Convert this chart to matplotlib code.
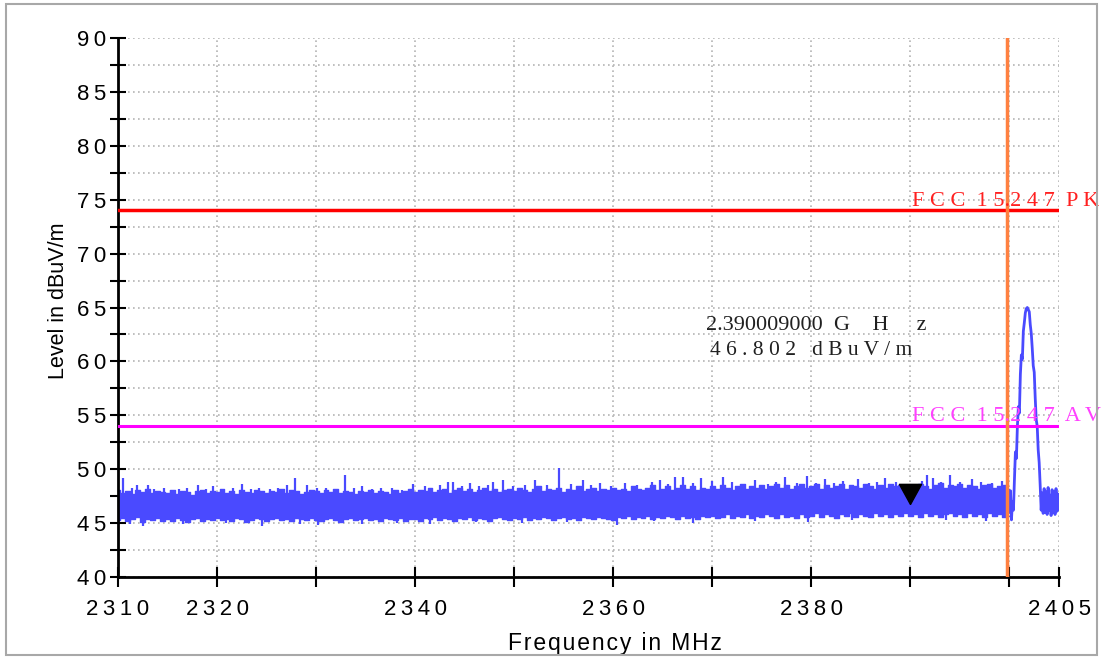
import numpy as np
import matplotlib
matplotlib.use("Agg")
import matplotlib.pyplot as plt
from matplotlib.ticker import MultipleLocator
from matplotlib.patches import Rectangle

plt.rcParams['font.family'] = ['Liberation Sans', 'DejaVu Sans']

# ---- data ----
# noise floor envelope (0.5 MHz bins, 2310 ... 2400 MHz)
band_freq = np.arange(2310.0, 2400.01, 0.5)
band_hi = [
    48.1, 47.8, 48.0, 47.7, 48.1, 47.9, 48.2, 47.8, 48.0, 47.9,
    47.8, 48.1, 47.7, 48.0, 47.9, 47.6, 48.0, 48.1, 47.8, 48.0,
    47.9, 48.2, 47.8, 48.0, 47.7, 48.1, 47.9, 47.8, 48.1, 48.0,
    47.8, 48.0, 47.9, 48.2, 47.8, 48.1, 48.0, 47.7, 47.9, 48.1,
    48.0, 47.8, 48.1, 47.9, 48.2, 47.8, 48.0, 47.9, 47.7, 48.0,
    47.9, 48.1, 47.8, 48.0, 47.9, 47.7, 48.1, 47.8, 48.0, 48.2,
    47.9, 48.1, 48.0, 48.3, 47.9, 48.1, 48.2, 47.8, 48.1, 48.3,
    48.0, 48.2, 47.9, 48.1, 48.3, 48.0, 48.2, 47.9, 48.1, 48.2,
    48.0, 48.3, 48.1, 47.9, 48.2, 48.4, 48.0, 48.2, 48.1, 48.3,
    47.9, 48.2, 48.1, 48.4, 48.0, 48.2, 48.3, 48.0, 48.2, 48.1,
    48.3, 48.1, 48.2, 48.0, 48.4, 48.2, 48.1, 48.3, 48.5, 48.1,
    48.2, 48.4, 48.1, 48.3, 48.5, 48.2, 48.4, 48.1, 48.3, 48.2,
    48.4, 48.2, 48.5, 48.3, 48.1, 48.4, 48.6, 48.2, 48.4, 48.3,
    48.5, 48.2, 48.4, 48.6, 48.3, 48.5, 48.2, 48.4, 48.6, 48.3,
    48.4, 48.6, 48.2, 48.5, 48.3, 48.4, 48.6, 48.2, 48.5, 48.4,
    48.3, 48.6, 48.4, 48.2, 48.5, 48.3, 48.6, 48.4, 48.5, 48.2,
    48.5, 48.3, 48.6, 48.4, 48.2, 48.5, 48.7, 48.3, 48.5, 48.4,
    48.6, 48.3, 48.5, 48.4, 48.2, 48.5, 48.6, 48.3, 48.4, 48.5,
    48.2,
]
band_lo = [
    45.3, 45.5, 45.2, 45.4, 45.6, 45.1, 45.4, 45.3, 45.5, 45.2,
    45.4, 45.2, 45.5, 45.3, 45.1, 45.4, 45.5, 45.2, 45.4, 45.3,
    45.5, 45.3, 45.4, 45.2, 45.5, 45.4, 45.1, 45.3, 45.5, 45.4,
    45.2, 45.4, 45.5, 45.3, 45.4, 45.2, 45.5, 45.4, 45.3, 45.5,
    45.3, 45.2, 45.4, 45.5, 45.3, 45.1, 45.4, 45.5, 45.3, 45.4,
    45.5, 45.3, 45.4, 45.2, 45.5, 45.4, 45.3, 45.5, 45.2, 45.4,
    45.4, 45.2, 45.5, 45.4, 45.6, 45.3, 45.5, 45.4, 45.2, 45.5,
    45.4, 45.6, 45.3, 45.5, 45.4, 45.2, 45.5, 45.6, 45.4, 45.3,
    45.5, 45.4, 45.6, 45.3, 45.5, 45.4, 45.6, 45.5, 45.3, 45.5,
    45.6, 45.4, 45.5, 45.3, 45.6, 45.5, 45.4, 45.6, 45.5, 45.4,
    45.3, 45.6, 45.5, 45.7, 45.4, 45.6, 45.5, 45.7, 45.4, 45.6,
    45.5, 45.7, 45.6, 45.4, 45.7, 45.5, 45.6, 45.4, 45.7, 45.6,
    45.7, 45.5, 45.6, 45.8, 45.5, 45.7, 45.6, 45.8, 45.5, 45.7,
    45.6, 45.8, 45.7, 45.5, 45.8, 45.6, 45.7, 45.5, 45.8, 45.6,
    45.7, 45.9, 45.6, 45.8, 45.7, 45.5, 45.8, 45.7, 45.9, 45.6,
    45.8, 45.7, 45.6, 45.9, 45.7, 45.8, 45.6, 45.8, 45.7, 45.9,
    45.7, 45.8, 45.6, 45.9, 45.7, 45.8, 45.6, 45.8, 45.9, 45.7,
    45.8, 45.6, 45.9, 45.7, 45.8, 45.6, 45.9, 45.7, 45.8, 45.6,
    45.7,
]

# single peak-hold spikes above the band
spike_freq = [2310.5, 2311.4, 2311.9, 2313.0, 2313.6, 2314.6, 2315.4, 2316.2,
              2317.0, 2318.1, 2318.9, 2319.6, 2320.5, 2321.6, 2322.5, 2323.4,
              2324.2, 2325.3, 2326.2, 2327.1, 2327.9, 2329.1, 2330.1, 2331.0,
              2332.0, 2332.9, 2333.8, 2334.6, 2335.6, 2336.6, 2337.7, 2338.7,
              2339.8, 2341.0, 2342.5, 2343.3, 2343.8, 2344.7, 2345.5, 2346.4,
              2347.4, 2347.9, 2348.9, 2349.9, 2351.1, 2352.1, 2353.3, 2354.5,
              2355.7, 2356.9, 2357.8, 2358.7, 2359.8, 2361.2, 2362.4, 2363.9,
              2364.7, 2365.5, 2366.2, 2367.0, 2368.1, 2368.9, 2370.0, 2371.1,
              2372.0, 2373.2, 2374.3, 2375.6, 2376.4, 2377.3, 2378.5, 2379.6,
              2380.5, 2381.4, 2382.3, 2383.2, 2384.7, 2385.8, 2386.6, 2387.4,
              2388.5, 2391.2, 2391.7, 2392.3, 2393.1, 2394.0, 2395.0, 2396.2,
              2397.1, 2398.2, 2399.2]
spike_level = [49.2, 48.3, 48.5, 48.5, 48.2, 48.3, 48.1, 48.2,
               48.3, 48.5, 48.2, 48.4, 48.2, 48.3, 48.6, 48.2,
               48.3, 48.2, 48.3, 48.5, 49.2, 48.5, 48.3, 48.3,
               48.2, 49.5, 48.3, 48.4, 48.2, 48.3, 48.3, 48.1,
               48.6, 48.4, 48.5, 48.8, 48.8, 48.4, 48.7, 48.4,
               48.5, 48.8, 49.0, 48.4, 48.5, 49.0, 48.5, 50.1,
               48.6, 49.0, 48.5, 48.7, 48.4, 48.7, 48.5, 48.8,
               49.0, 48.6, 49.3, 49.3, 48.7, 49.2, 48.9, 49.3,
               48.8, 48.6, 49.0, 48.6, 48.8, 49.3, 48.7, 49.4,
               48.7, 49.1, 48.7, 48.9, 49.1, 48.7, 48.8, 49.2,
               48.8, 48.9, 49.5, 49.2, 48.8, 49.5, 48.8, 49.1,
               48.8, 48.7, 48.9]
dip_freq = [2311.2, 2312.5, 2316.6, 2320.9, 2324.5, 2328.4, 2330.2, 2334.6,
            2338.2, 2341.5, 2346.1, 2350.8, 2355.3, 2360.4, 2364.1, 2368.0,
            2374.3, 2379.7, 2384.1, 2393.6, 2397.6]
dip_level = [44.9, 44.7, 44.9, 45.0, 44.7, 44.9, 44.8, 44.9,
             45.0, 44.9, 45.1, 45.0, 45.1, 44.8, 45.2, 45.0,
             45.2, 45.1, 45.3, 45.3, 45.2]

# carrier skirt just above the band edge (0.1 MHz steps)
peak_freq = np.arange(2400.0, 2405.01, 0.1)
peak_level = [
    46.0, 48.0, 45.3, 47.0, 46.2, 49.0, 51.6, 51.0, 54.0, 55.8,
    55.2, 58.8, 60.6, 60.2, 62.8, 63.6, 64.5, 64.9, 65.0, 64.8,
    64.6, 63.4, 62.6, 61.2, 59.6, 59.0, 56.6, 54.6, 54.0, 51.8,
    50.6, 48.5, 46.2, 47.8, 45.9, 48.2, 46.0, 47.9, 45.8, 48.3,
    46.2, 47.6, 45.7, 48.1, 46.0, 47.9, 45.8, 48.2, 46.1, 47.7,
    46.3,
]

limit_pk = 74.0
limit_av = 54.0
band_edge = 2399.7
marker_freq = 2390.0
marker_level = 46.802

x_ticks = [2310, 2320, 2330, 2340, 2350, 2360, 2370, 2380, 2390, 2400, 2405]
x_tick_labels = ['2310', '2320', '', '2340', '', '2360', '', '2380', '', '', '2405']
y_ticks = [40, 45, 50, 55, 60, 65, 70, 75, 80, 85, 90]


def spaced(s, sep='\u2009'):
    return sep.join(s)


blue = '#4A4AFF'

fig = plt.figure(figsize=(11.02, 6.57), dpi=100)
W, H = 1102, 657
ax = fig.add_axes([118 / W, 1 - 577 / H, (1059 - 118) / W, (577 - 38) / H])

# trace
ax.fill_between(band_freq, band_lo, band_hi, step='mid', color=blue, lw=0, zorder=2)
ax.step(band_freq, band_hi, where='mid', color=blue, lw=1.0, zorder=2)
ax.step(band_freq, band_lo, where='mid', color=blue, lw=1.0, zorder=2)
ax.vlines(spike_freq, 47.0, spike_level, color=blue, lw=1.6, zorder=2)
ax.vlines(dip_freq, dip_level, 46.5, color=blue, lw=1.6, zorder=2)
ax.plot(peak_freq, peak_level, color=blue, lw=2.0, zorder=2)

# limit lines and band edge
ax.axhline(limit_pk, color='#FF0000', lw=2.5, zorder=3)
ax.axhline(limit_av, color='#FF00FF', lw=2.2, zorder=3)
ax.axvline(band_edge, color='#FF8040', lw=2.5, zorder=4)

ax.text(2390.16, limit_pk + 0.45, 'F C C  1 5.2 4 7  P K', color='#FF2020',
        family='Liberation Serif', fontsize=16, va='baseline', ha='left', clip_on=False, zorder=5)
ax.text(2390.16, limit_av + 0.45, 'F C C  1 5.2 4 7  A V', color='#FF40FF',
        family='Liberation Serif', fontsize=16, va='baseline', ha='left', clip_on=False, zorder=5)

# marker
tri = [(0, 0), (-0.55, 1), (0.55, 1), (0, 0)]
ax.plot([marker_freq], [marker_level], marker=tri, markersize=29, color='black',
        linestyle='none', zorder=6)
ax.text(2369.4, 62.9, '2.390009000  G    H     z', family='Liberation Serif',
        fontsize=16, color='#202020', va='baseline', ha='left', zorder=5)
ax.text(2369.8, 60.6, '4 6 . 8 0 2   d B u V / m', family='Liberation Serif',
        fontsize=15.5, color='#202020', va='baseline', ha='left', zorder=5)

# axes
ax.set_xlim(2310, 2405)
ax.set_ylim(40, 90)
ax.set_xticks(x_ticks)
ax.set_xticklabels([spaced(t) for t in x_tick_labels], fontsize=16)
ax.set_yticks(y_ticks)
ax.set_yticklabels([spaced(str(t)) for t in y_ticks], fontsize=16)
ax.yaxis.set_minor_locator(MultipleLocator(2.5))
ax.tick_params(axis='y', which='both', direction='inout', length=11, width=1.5, pad=3)
ax.tick_params(axis='x', which='both', direction='inout', length=15, width=1.5, pad=8)

for border in ['right', 'top']:
    ax.spines[border].set_visible(False)
for border in ['left', 'bottom']:
    ax.spines[border].set_linewidth(2)

ax.grid(True, which='major', axis='x', color='#B4B4B4', linestyle=(0, (1, 2)), lw=1.2)
ax.grid(True, which='both', axis='y', color='#B4B4B4', linestyle=(0, (1, 2)), lw=1.2)
ax.set_axisbelow(True)

ax.set_xlabel(spaced('Frequency in MHz', '\u200a'), fontsize=16.5)
ax.xaxis.label.set_va('baseline')
ax.xaxis.set_label_coords((615 - 118) / 941, (577 - 650) / 539)
ax.set_ylabel('Level in dBuV/m', fontsize=15.5)
ax.yaxis.set_label_coords((69 - 118) / 941, (577 - 301) / 539)

# outer frame
fig.patches.append(Rectangle((6 / W, 1 - 655 / H), (1097 - 6) / W, (655 - 4) / H,
                             transform=fig.transFigure, fill=False,
                             edgecolor='#A8A8A8', lw=1.5))

fig.savefig('out.png', dpi=100)
